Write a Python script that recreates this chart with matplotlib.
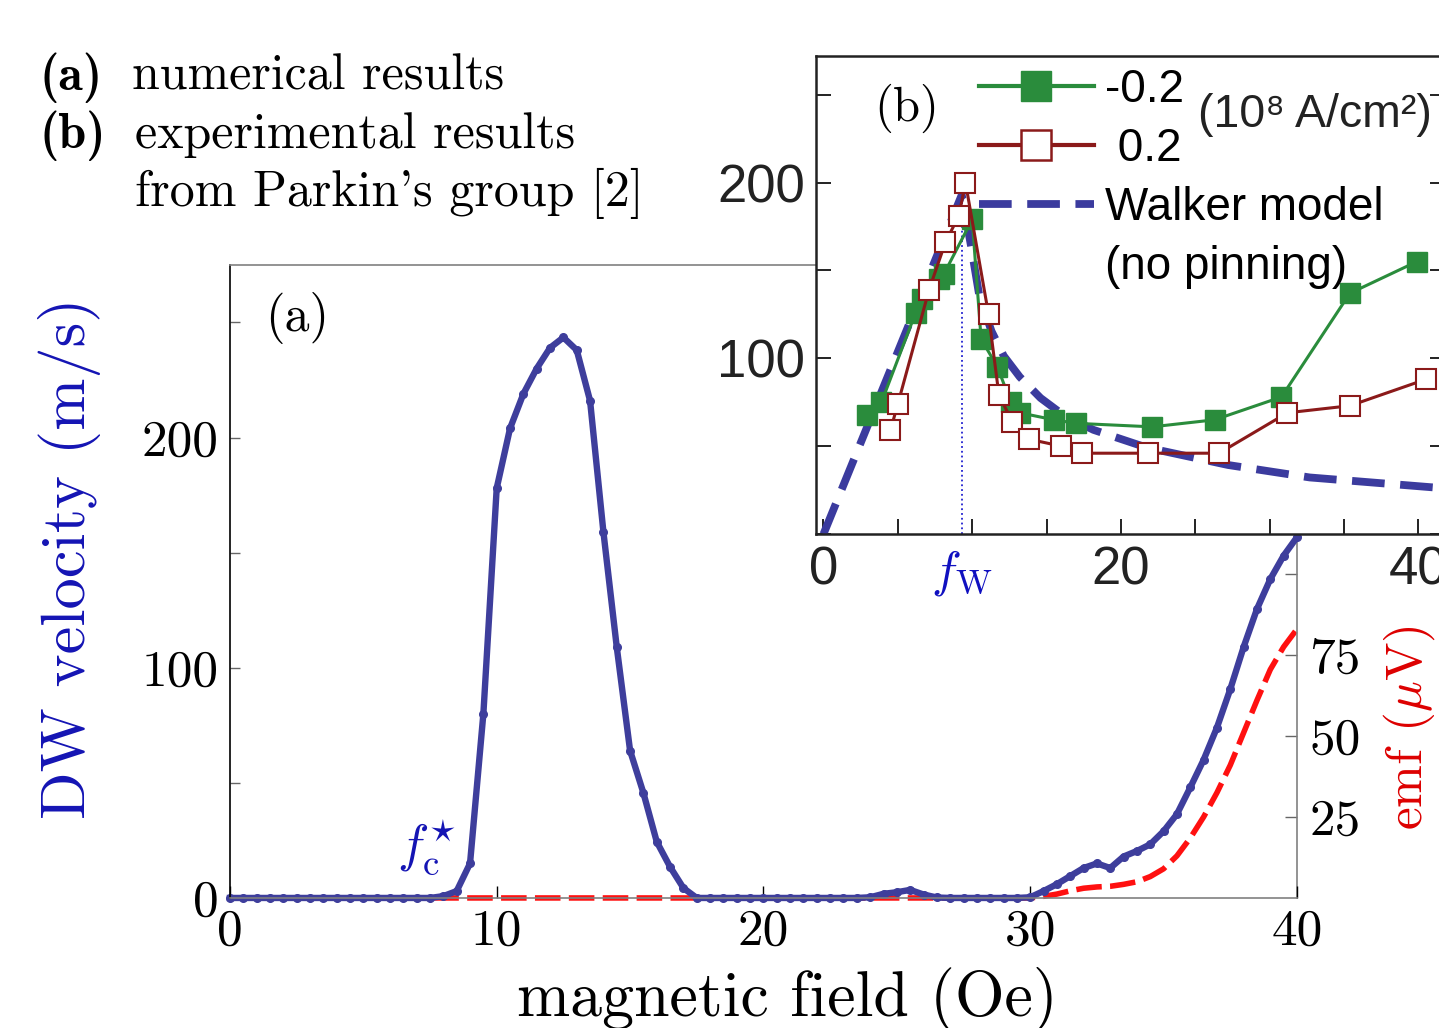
import numpy as np
import matplotlib.pyplot as plt
from matplotlib.lines import Line2D
from matplotlib.ticker import MultipleLocator, FixedLocator

plt.rcParams['mathtext.fontset'] = 'cm'
plt.rcParams['axes.unicode_minus'] = False

# (a) numerical results: field (Oe), DW velocity (m/s), emf (uV)
field = np.arange(0, 40.5, 0.5)
velocity = [0, 0, 0, 0, 0, 0, 0, 0, 0, 0, 0, 0, 0, 0, 0, 0,
            0.8, 3, 15, 80, 178, 204, 219, 230, 239, 243.5, 238, 216, 159, 109,
            64, 45.6, 24.4, 13.5, 4.3, 0,
            0, 0, 0, 0, 0, 0, 0, 0, 0, 0, 0, 0,
            0.3, 1.8, 2.5, 3.5, 1.5, 0.2,
            0, 0, 0, 0, 0, 0,
            0.3, 3, 6, 9.5, 13, 15, 13, 18, 20.4, 23.3, 29, 36.4, 48, 60, 74,
            90.7, 109, 125.5, 138.5, 148.7, 156.7]
emf = [0, 0, 0, 0, 0, 0, 0, 0, 0, 0, 0, 0, 0, 0, 0, 0, 0, 0, 0, 0,
       0, 0, 0, 0, 0, 0, 0, 0, 0, 0, 0, 0, 0, 0, 0, 0, 0, 0, 0, 0,
       0, 0, 0, 0, 0, 0, 0, 0, 0, 0, 0, 0, 0, 0, 0, 0, 0, 0, 0, 0, 0,
       0.5, 1.2, 2.2, 3.0, 3.4, 3.6, 4.2, 5.0, 6.6, 9.0, 13, 18.5, 25, 32.5,
       41, 51, 61, 70.5, 77.5, 83]

# (b) experimental results (Parkin's group)
green_f = [2.9, 3.9, 6.2, 6.6, 7.8, 8.1, 10.0, 10.6, 11.7, 12.6, 13.2, 15.5,
           17.0, 22.1, 26.3, 30.8, 35.4, 39.9]
green_v = [68, 75, 126, 134, 145, 148, 179, 111, 95, 75, 69, 65, 63, 61, 65,
           78, 137, 155]
red_f = [4.5, 5.0, 7.1, 8.2, 9.1, 9.55, 11.1, 11.8, 12.7, 13.8, 16.0, 17.4,
         21.8, 26.6, 31.2, 35.4, 40.5]
red_v = [59, 74, 139, 166, 181, 200, 125, 79, 64, 54, 50, 46, 46, 46, 69, 73, 88]
walker_f = [0, 9.3, 9.93, 10.48, 11.3, 12.12, 13.2, 14.6, 16.2, 18.15, 21.7,
            27.2, 32.7, 41.8]
walker_v = [0, 193, 163.5, 135.5, 115.4, 101.4, 89.4, 77.4, 67.3, 59.3, 49.3,
            39.3, 32.2, 26]
f_walker = 9.3

BLUE = '#3e3e9c'
LABEL_BLUE = '#1414b4'
GREEN = '#2a8c3c'
DARKRED = '#8b1a1a'
SERIF = 'cmr10'
SANS = ['Liberation Sans', 'DejaVu Sans']

fig = plt.figure(figsize=(14.39, 10.28), dpi=100)

# main panel
ax = fig.add_axes([0.1598, 0.1265, 0.7415, 0.6158])
ax2 = ax.twinx()
ax.set_zorder(2)
ax2.set_zorder(1)
ax.patch.set_visible(False)

ax2.plot(field, emf, color='#ff1010', lw=4.0, dashes=(4.6, 1.5), clip_on=False)
ax.plot(field, velocity, color=BLUE, lw=4.6, marker='o', ms=5.5, clip_on=False)

ax.set_xlim(0, 40)
ax.set_ylim(0, 275)
ax2.set_ylim(0, 195.4)

ax.xaxis.set_major_locator(MultipleLocator(10))
ax.yaxis.set_major_locator(MultipleLocator(100))
ax.yaxis.set_minor_locator(MultipleLocator(50))
ax.tick_params(axis='x', direction='in', length=8.5, width=1, color='k', pad=8,
               labelsize=37, top=False)
ax.tick_params(axis='y', which='both', direction='in', length=7, width=1,
               color='#666666', pad=8, labelsize=37, right=False)
ax2.yaxis.set_major_locator(FixedLocator([25, 50, 75, 100, 125, 150, 175]))
ax2.set_yticklabels(['25', '50', '75', '', '', '', ''])
ax2.tick_params(axis='y', direction='in', length=8.5, width=1, color='#666666',
                pad=9, labelsize=37)
for lab in ax.get_xticklabels() + ax.get_yticklabels() + ax2.get_yticklabels():
    lab.set_fontfamily(SERIF)

for side in ['top', 'bottom']:
    ax.spines[side].set_color('#808080')
    ax.spines[side].set_linewidth(1.2)
ax.spines['left'].set_color('k')
ax.spines['left'].set_linewidth(1.2)
ax.spines['right'].set_visible(False)
for side in ['left', 'top', 'bottom']:
    ax2.spines[side].set_visible(False)
ax2.spines['right'].set_color('#808080')
ax2.spines['right'].set_linewidth(1.2)

ax.text(-0.150, 0.537, 'DW velocity (m/s)', transform=ax.transAxes, rotation=90,
        ha='center', va='center', fontsize=45, color=LABEL_BLUE, family=SERIF)
ax.text(0.5225, -0.186, 'magnetic field (Oe)', transform=ax.transAxes,
        ha='center', va='baseline', fontsize=46, color='k', family=SERIF)
ax.text(1.1055, 0.2686, r'emf ($\mu$V)', transform=ax.transAxes, rotation=90,
        ha='center', va='center', fontsize=37, color='#dd0000', family=SERIF)
ax.text(0.033, 0.895, '(a)', transform=ax.transAxes, ha='left', va='baseline',
        fontsize=36, family=SERIF)
ax.text(8.45, 16, r'$f_{\rm c}^{\star}$', ha='right', va='baseline',
        fontsize=38, color=LABEL_BLUE)

# inset (b)
axi = fig.add_axes([0.5671, 0.4805, 0.4371, 0.465])
axi.set_zorder(3)
axi.plot(walker_f, walker_v, color='#3b3b9e', lw=5.6, dashes=(4.2, 2.0))
axi.vlines(f_walker, 0, walker_v[1], color='#2020d0', lw=1.3, linestyles=':')
axi.plot(green_f, green_v, color=GREEN, lw=2.2, marker='s', ms=14,
         mfc=GREEN, mec=GREEN)
axi.plot(red_f, red_v, color=DARKRED, lw=2.2, marker='s', ms=14,
         mfc='white', mec=DARKRED, mew=1.5)

# legend handles (drawn thicker than the data lines, as in the figure)
gl = Line2D([], [], color=GREEN, lw=3, marker='s', ms=21, mfc=GREEN, mec=GREEN)
rl = Line2D([], [], color=DARKRED, lw=3, marker='s', ms=21, mfc='white',
            mec=DARKRED, mew=1.8)
wl = Line2D([], [], color='#3b3b9e', lw=5.6, dashes=(4.2, 2.0))
blank = Line2D([], [], linestyle='none')

axi.set_xlim(-0.5, 41.8)
axi.set_ylim(0, 272)
axi.xaxis.set_major_locator(FixedLocator([0, 20, 40]))
axi.xaxis.set_minor_locator(MultipleLocator(5))
axi.yaxis.set_minor_locator(MultipleLocator(50))
axi.set_yticks([100, 200])
axi.tick_params(which='both', direction='in', length=10.8, width=1.4,
                color='#222222', labelsize=38, labelcolor='#222222',
                right=True, top=False, pad=8)
for lab in axi.get_xticklabels() + axi.get_yticklabels():
    lab.set_fontfamily(SANS)
for sp in axi.spines.values():
    sp.set_linewidth(1.8)
    sp.set_color('#222222')

axi.annotate(r'$f_{\rm W}$', xy=(f_walker, 0), xycoords=('data', 'axes fraction'),
             xytext=(0, -10), textcoords='offset points', ha='center', va='top',
             fontsize=36, color='#1010c0')
axi.text(0.093, 0.865, '(b)', transform=axi.transAxes, ha='left', va='baseline',
         fontsize=35, family=SERIF)

axi.legend(handles=[gl, rl, wl, blank],
           labels=['-0.2', ' 0.2', 'Walker model', '(no pinning)'],
           loc='upper left', bbox_to_anchor=(0.259, 0.975), frameon=False,
           prop={'family': SANS, 'size': 33}, handlelength=2.5,
           handletextpad=0.26, labelspacing=0.33,
           borderaxespad=0, borderpad=0, numpoints=1)
axi.text(0.607, 0.877, '(10⁸ A/cm²)', transform=axi.transAxes, ha='left',
         va='center', fontsize=33.5, family=SANS, color='#222222')

# header text
fig.text(40 / 1439, 1 - 90 / 1028, '(a)', family='cmb10', fontsize=36,
         va='baseline')
fig.text(132 / 1439, 1 - 90 / 1028, 'numerical results', family=SERIF,
         fontsize=36, va='baseline')
fig.text(40 / 1439, 1 - 148 / 1028, '(b)', family='cmb10', fontsize=36,
         va='baseline')
fig.text(135 / 1439, 1 - 148 / 1028, 'experimental results', family=SERIF,
         fontsize=36, va='baseline')
fig.text(135 / 1439, 1 - 206 / 1028, "from Parkin's group [2]", family=SERIF,
         fontsize=36, va='baseline')

fig.savefig('out.png', dpi=100)
